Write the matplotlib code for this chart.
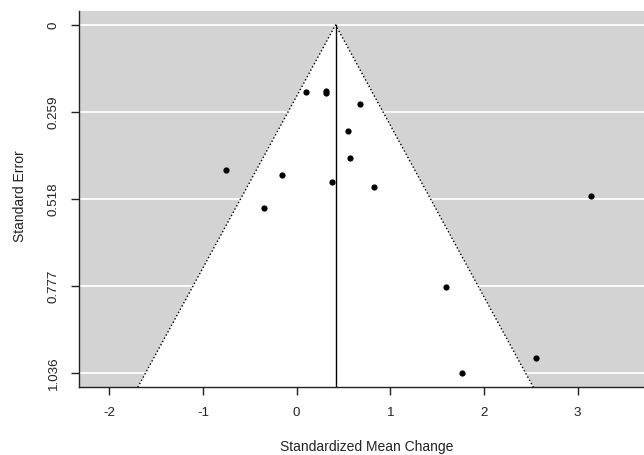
import numpy as np
import matplotlib.pyplot as plt

# observed standardized mean changes and their standard errors
yi = [0.099, 0.316, 0.318, 0.679, 0.545, 0.572, -0.755, -0.154, 0.374, 0.829,
      -0.349, 3.139, 1.591, 2.555, 1.762]
sei = [0.200, 0.195, 0.201, 0.236, 0.315, 0.395, 0.431, 0.447, 0.468, 0.483,
       0.543, 0.510, 0.780, 0.990, 1.036]
est = 0.415  # pooled estimate

x_ticks = [-2, -1, 0, 1, 2, 3]
se_ticks = [0, 0.259, 0.518, 0.777, 1.036]
se_labels = ["0", "0.259", "0.518", "0.777", "1.036"]

plt.rcParams['font.family'] = ['Liberation Sans', 'DejaVu Sans']
plt.rcParams['font.size'] = 9.6
plt.rcParams['axes.unicode_minus'] = False

W, H = 644, 455
fig = plt.figure(figsize=(W / 100, H / 100), dpi=100)
left, right, top, bottom = 79, 644, 11, 387.3
ax = fig.add_axes([left / W, 1 - bottom / H, (right - left) / W, (bottom - top) / H])
ax.set_facecolor('lightgray')

ymax = max(sei) * 1.04
ax.set_ylim(ymax, -0.04 * max(sei))
ax.set_xlim(-2.324, 3.708)

for t in se_ticks:
    ax.axhline(t, color='white', lw=1.3, zorder=1)

# funnel region (95% pseudo confidence limits)
lo = est - 1.96 * ymax
hi = est + 1.96 * ymax
ax.fill([lo, est, hi], [ymax, 0, ymax], color='white', lw=0, zorder=2)
ax.plot([lo, est, hi], [ymax, 0, ymax], ls=':', color='black', lw=1, zorder=3)
ax.plot([est, est], [0, ymax], color='black', lw=1, zorder=3)

ax.scatter(yi, sei, s=20, color='black', lw=0, zorder=4)

for s in ['top', 'right']:
    ax.spines[s].set_visible(False)
for s in ['left', 'bottom']:
    ax.spines[s].set_color('#222222')
    ax.spines[s].set_linewidth(1)

ax.set_xticks(x_ticks)
ax.set_yticks(se_ticks)
ax.set_yticklabels(se_labels, rotation=90, va='center')
ax.tick_params(direction='out', length=5.5, width=1, color='#222222',
               labelcolor='#222222')
ax.tick_params(axis='x', pad=9)
ax.tick_params(axis='y', pad=8.5)

fig.text(367 / W, 1 - 447 / H, "Standardized Mean Change", ha='center', va='center',
         color='#222222', fontsize=10)
fig.text(20 / W, 1 - 196 / H, "Standard Error", ha='center', va='center',
         rotation=90, color='#222222', fontsize=10)

fig.savefig("out.png", dpi=100)
